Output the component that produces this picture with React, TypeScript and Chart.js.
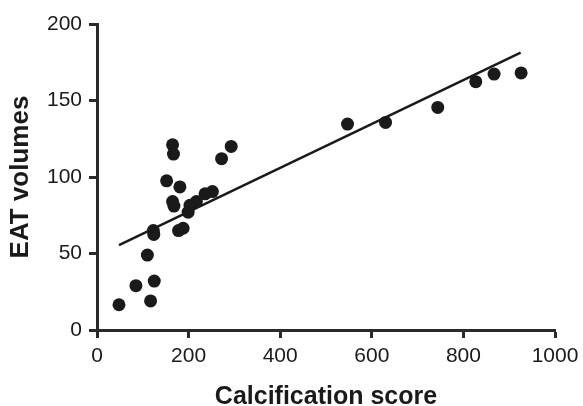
import React, { useEffect, useRef } from "react";
import { Chart, registerables } from "chart.js";

Chart.register(...registerables);

const calcScore = [48, 85, 117, 125, 110, 123, 124, 178, 188, 165, 168, 199, 203, 217, 236, 252, 152, 181, 165, 167, 272, 293, 547, 630, 744, 827, 867, 926];
const eatVolume = [16.5, 29, 19, 32, 49, 65, 62.5, 65, 66.5, 84, 81, 77, 81.5, 84, 89, 90.5, 97.5, 93.5, 121, 115, 112, 120, 134.6, 135.7, 145.5, 162.3, 167.3, 168];
const fitX = [48, 925];
const fitY = [55.5, 181.3];
const xTicks = [0, 200, 400, 600, 800, 1000];
const yTicks = [0, 50, 100, 150, 200];

const INK = "#1a1a1a";
const AXIS = "#2a2a2a";

export default function App() {
  const ref = useRef<HTMLCanvasElement | null>(null);
  useEffect(() => {
    if (!ref.current) return;
    const fixPad = (s: any) => {
      s.paddingLeft = 0;
      s.paddingRight = 0;
      s.paddingTop = 0;
      s.paddingBottom = 0;
    };
    const chart = new Chart(ref.current, {
      type: "scatter",
      data: {
        datasets: [
          {
            type: "line",
            data: fitX.map((x, i) => ({ x, y: fitY[i] })),
            borderColor: INK,
            borderWidth: 2.5,
            pointRadius: 0,
            fill: false,
          },
          {
            type: "scatter",
            data: calcScore.map((x, i) => ({ x, y: eatVolume[i] })),
            backgroundColor: "#1a1a1a",
            borderColor: "#1a1a1a",
            borderWidth: 0,
            pointRadius: 6.5,
          },
        ],
      },
      options: {
        responsive: false,
        animation: false,
        layout: { padding: { top: 24, right: 28, left: 0, bottom: 0 } },
        plugins: { legend: { display: false }, tooltip: { enabled: false } },
        scales: {
          x: {
            type: "linear",
            min: xTicks[0],
            max: xTicks[xTicks.length - 1],
            afterBuildTicks: (s: any) => {
              s.ticks = xTicks.map((v) => ({ value: v }));
            },
            afterFit: (s: any) => {
              s.height = 76;
              fixPad(s);
            },
            border: { display: true, color: AXIS, width: 3 },
            grid: { drawOnChartArea: false, drawTicks: true, tickLength: 8, tickWidth: 3, tickColor: AXIS },
            ticks: {
              color: INK,
              padding: 6,
              maxRotation: 0,
              font: { family: "Liberation Sans, Arial", size: 21 },
              callback: (v: any) => String(v),
            },
            title: {
              display: true,
              text: "Calcification score",
              color: INK,
              font: { family: "Liberation Sans, Arial", size: 25, weight: "bold", lineHeight: 1 },
              padding: { top: 0, bottom: -4 },
            },
          },
          y: {
            type: "linear",
            min: yTicks[0],
            max: yTicks[yTicks.length - 1],
            afterBuildTicks: (s: any) => {
              s.ticks = yTicks.map((v) => ({ value: v }));
            },
            afterFit: (s: any) => {
              s.width = 97;
              fixPad(s);
            },
            border: { display: true, color: AXIS, width: 3 },
            grid: { drawOnChartArea: false, drawTicks: true, tickLength: 8, tickWidth: 3, tickColor: AXIS },
            ticks: {
              color: INK,
              padding: 7,
              font: { family: "Liberation Sans, Arial", size: 21 },
              callback: (v: any) => String(v),
            },
            title: {
              display: true,
              text: "EAT volumes",
              color: INK,
              font: { family: "Liberation Sans, Arial", size: 26, weight: "bold", lineHeight: 1 },
              padding: { top: 8, bottom: 0 },
            },
          },
        },
      },
    } as any);
    return () => chart.destroy();
  }, []);
  return (
    <div style={{ position: "fixed", left: 0, top: 0, width: 583, height: 406, background: "#fff" }}>
      <canvas ref={ref} width={583} height={406} style={{ width: 583, height: 406, display: "block" }} />
    </div>
  );
}
